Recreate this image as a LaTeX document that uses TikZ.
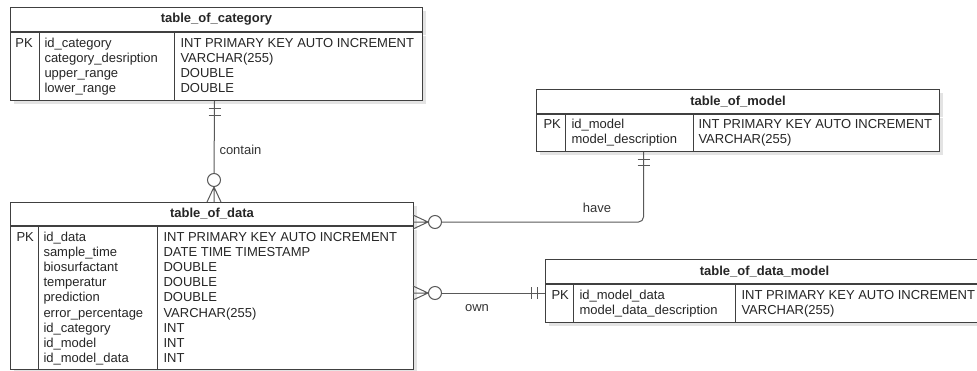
\documentclass[tikz,border=0pt]{standalone}
\usepackage{fontspec}
\setmainfont{Liberation Sans}
\usetikzlibrary{positioning,shadows}

\begin{document}
\begin{tikzpicture}[x=1pt, y=-1pt, line width=1pt,
    font=\fontsize{13}{15}\selectfont,
    tbl/.style={draw=black!75, fill=white, inner sep=0pt, anchor=north west, text=black!85,
      drop shadow={shadow xshift=3pt, shadow yshift=-3pt, fill=black!18, opacity=0.6}},
    tblhead/.style={tbl, font=\fontsize{13}{15}\selectfont\bfseries, minimum height=24pt},
    cell/.style={anchor=base west, inner sep=0pt, text=black!85},
    sep/.style={draw=black!75},
    rel/.style={draw=black!65},
    opt/.style={circle, draw=black!65, fill=white, inner sep=0pt, minimum size=13pt},
    lbl/.style={text=black!80, inner sep=0pt}]

\useasboundingbox (0,0) rectangle (977,370);

% table_of_category
\node[tblhead, minimum width=412pt] (cat-h) at (10,7) {table\_of\_category};
\node[tbl, minimum width=412pt, minimum height=68pt, below=0pt of cat-h] (cat) {};
\draw[sep] ([xshift=29pt]cat.north west) -- ([xshift=29pt]cat.south west);
\draw[sep] ([xshift=164pt]cat.north west) -- ([xshift=164pt]cat.south west);
\node[cell] (cat-pk) at ([xshift=5pt,yshift=-15pt]cat.north west) {PK};
\foreach \nm/\ty [count=\i] in {id\_category/INT PRIMARY KEY AUTO INCREMENT,
    category\_desription/VARCHAR(255), upper\_range/DOUBLE, lower\_range/DOUBLE}{
  \node[cell] (cat-n\i) at ([xshift=34pt,yshift={-15-15.2*(\i-1)}]cat.north west) {\nm};
  \node[cell] (cat-t\i) at ([xshift=170pt,yshift={-15-15.2*(\i-1)}]cat.north west) {\ty};
}

% table_of_model
\node[tblhead, minimum width=403pt] (mod-h) at (536,89) {table\_of\_model};
\node[tbl, minimum width=403pt, minimum height=37pt, below=0pt of mod-h] (mod) {};
\draw[sep] ([xshift=29pt]mod.north west) -- ([xshift=29pt]mod.south west);
\draw[sep] ([xshift=157pt]mod.north west) -- ([xshift=157pt]mod.south west);
\node[cell] (mod-pk) at ([xshift=7pt,yshift=-14.5pt]mod.north west) {PK};
\foreach \nm/\ty [count=\i] in {id\_model/INT PRIMARY KEY AUTO INCREMENT,
    model\_description/VARCHAR(255)}{
  \node[cell] (mod-n\i) at ([xshift=35pt,yshift={-14.5-15.2*(\i-1)}]mod.north west) {\nm};
  \node[cell] (mod-t\i) at ([xshift=162pt,yshift={-14.5-15.2*(\i-1)}]mod.north west) {\ty};
}

% table_of_data
\node[tblhead, minimum width=403pt, minimum height=23pt] (dat-h) at (10,202) {table\_of\_data};
\node[tbl, minimum width=403pt, minimum height=143pt, below=0pt of dat-h] (dat) {};
\draw[sep] ([xshift=28pt]dat.north west) -- ([xshift=28pt]dat.south west);
\draw[sep] ([xshift=147pt]dat.north west) -- ([xshift=147pt]dat.south west);
\node[cell] (dat-pk) at ([xshift=6pt,yshift=-15pt]dat.north west) {PK};
\foreach \nm/\ty [count=\i] in {id\_data/INT PRIMARY KEY AUTO INCREMENT,
    sample\_time/DATE TIME TIMESTAMP, biosurfactant/DOUBLE, temperatur/DOUBLE,
    prediction/DOUBLE, error\_percentage/VARCHAR(255), id\_category/INT,
    id\_model/INT, id\_model\_data/INT}{
  \node[cell] (dat-n\i) at ([xshift=33pt,yshift={-15-15.2*(\i-1)}]dat.north west) {\nm};
  \node[cell] (dat-t\i) at ([xshift=153pt,yshift={-15-15.2*(\i-1)}]dat.north west) {\ty};
}

% table_of_data_model
\node[tblhead, minimum width=438pt] (dm-h) at (545,259) {table\_of\_data\_model};
\node[tbl, minimum width=438pt, minimum height=38pt, below=0pt of dm-h] (dm) {};
\draw[sep] ([xshift=28pt]dm.north west) -- ([xshift=28pt]dm.south west);
\draw[sep] ([xshift=190pt]dm.north west) -- ([xshift=190pt]dm.south west);
\node[cell] (dm-pk) at ([xshift=6pt,yshift=-15pt]dm.north west) {PK};
\foreach \nm/\ty [count=\i] in {id\_model\_data/INT PRIMARY KEY AUTO INCREMENT,
    model\_data\_description/VARCHAR(255)}{
  \node[cell] (dm-n\i) at ([xshift=34pt,yshift={-15-15.2*(\i-1)}]dm.north west) {\nm};
  \node[cell] (dm-t\i) at ([xshift=196pt,yshift={-15-15.2*(\i-1)}]dm.north west) {\ty};
}

% contain
\node[opt] (o-cat) at (214,180) {};
\draw[rel] ([xshift=-2pt]cat.south) -- (o-cat);
\draw[rel] ([xshift=-8pt,yshift=-7pt]cat.south) -- ++(12,0);
\draw[rel] ([xshift=-8pt,yshift=-14pt]cat.south) -- ++(12,0);
\draw[rel] (o-cat.south) -- ++(-7,15) (o-cat.south) -- ++(0,15) (o-cat.south) -- ++(7,15);
\node[lbl, anchor=west] (l-contain) at (219,150) {contain};

% have
\node[opt] (o-mod) at (435,222) {};
\draw[rel, rounded corners=5pt] ([xshift=-94.5pt]mod.south) |- (o-mod);
\draw[rel] ([xshift=-100.5pt,yshift=-7pt]mod.south) -- ++(12,0);
\draw[rel] ([xshift=-100.5pt,yshift=-13pt]mod.south) -- ++(12,0);
\draw[rel] (o-mod.west) -- ++(-15,-7) (o-mod.west) -- ++(-15,0) (o-mod.west) -- ++(-15,7);
\node[lbl] (l-have) at (597,208) {have};

% own
\node[opt] (o-dm) at (435,293) {};
\draw[rel] (o-dm) -- (o-dm -| dm.west) coordinate (own-end);
\draw[rel] ([xshift=-14pt,yshift=6pt]own-end) -- ++(0,12);
\draw[rel] ([xshift=-8pt,yshift=6pt]own-end) -- ++(0,12);
\draw[rel] (o-dm.west) -- ++(-15,-7) (o-dm.west) -- ++(-15,0) (o-dm.west) -- ++(-15,7);
\node[lbl] (l-own) at (477,308) {own};
\end{tikzpicture}
\end{document}
